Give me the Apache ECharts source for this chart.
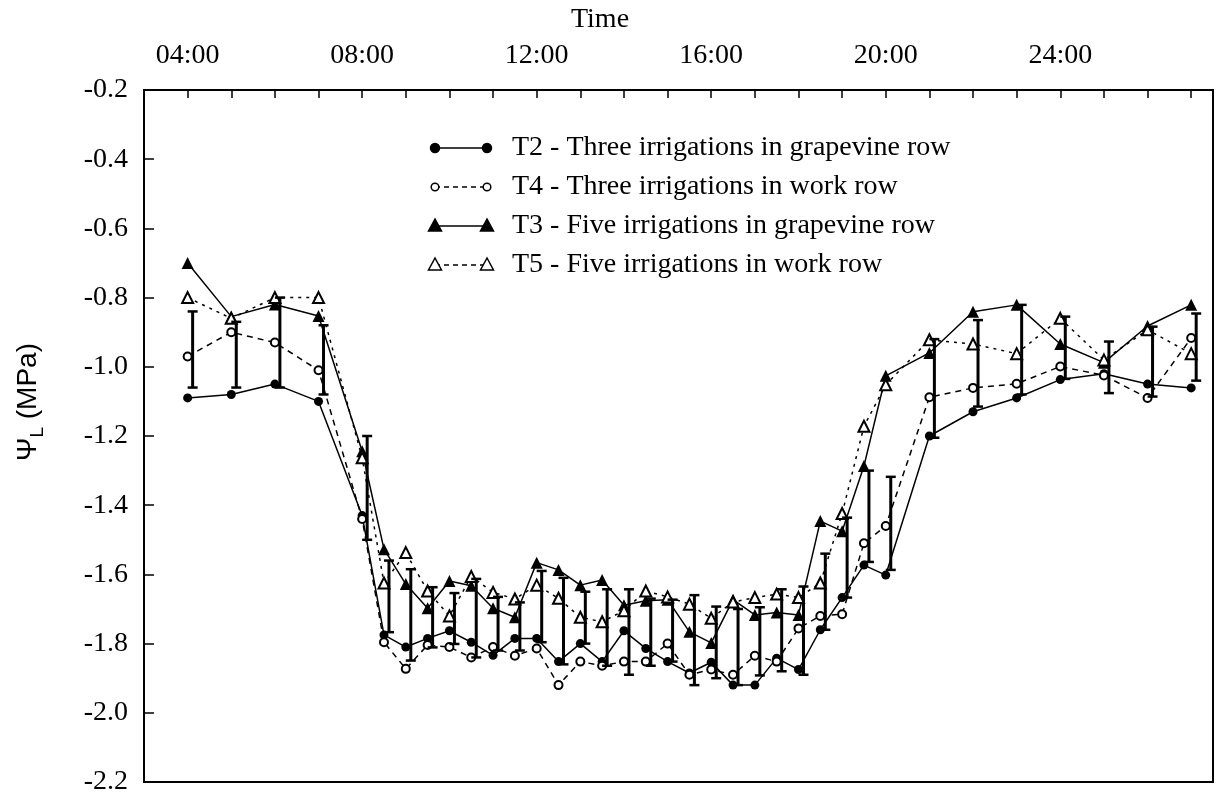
<!DOCTYPE html>
<html><head><meta charset="utf-8">
<script src="https://cdn.jsdelivr.net/npm/echarts@6/dist/echarts.min.js"></script>
<style>html,body{margin:0;padding:0;background:#fff}#c{width:1231px;height:796px}</style>
</head><body><div id="c"></div>
<script>
// Time of day in hours (25-27 = 01:00-03:00 next day)
const times = [4,5,6,7,8,8.5,9,9.5,10,10.5,11,11.5,12,12.5,13,13.5,14,14.5,15,15.5,16,16.5,17,17.5,18,18.5,19,19.5,20,21,22,23,24,25,26,27];
const T2 = [-1.09,-1.08,-1.05,-1.10,-1.43,-1.775,-1.81,-1.785,-1.763,-1.796,-1.834,-1.785,-1.785,-1.852,-1.80,-1.852,-1.763,-1.814,-1.852,-1.885,-1.854,-1.92,-1.92,-1.842,-1.875,-1.76,-1.667,-1.573,-1.602,-1.20,-1.13,-1.09,-1.037,-1.02,-1.05,-1.061];
const T4 = [-0.97,-0.90,-0.93,-1.01,-1.44,-1.796,-1.873,-1.804,-1.81,-1.84,-1.81,-1.835,-1.814,-1.92,-1.852,-1.864,-1.852,-1.852,-1.80,-1.89,-1.875,-1.89,-1.835,-1.852,-1.756,-1.72,-1.715,-1.51,-1.46,-1.088,-1.061,-1.049,-0.999,-1.025,-1.09,-0.917];
const T3 = [-0.70,-0.855,-0.82,-0.853,-1.244,-1.527,-1.628,-1.698,-1.619,-1.633,-1.698,-1.724,-1.566,-1.587,-1.631,-1.616,-1.689,-1.676,-1.673,-1.766,-1.798,-1.673,-1.717,-1.71,-1.717,-1.446,-1.475,-1.287,-1.026,-0.96,-0.841,-0.821,-0.934,-0.988,-0.882,-0.821];
const T5 = [-0.80,-0.86,-0.80,-0.80,-1.263,-1.625,-1.537,-1.648,-1.72,-1.606,-1.652,-1.671,-1.631,-1.669,-1.724,-1.737,-1.705,-1.648,-1.665,-1.686,-1.727,-1.68,-1.667,-1.657,-1.667,-1.625,-1.424,-1.172,-1.052,-0.922,-0.934,-0.962,-0.86,-0.98,-0.893,-0.962];
// error bar extent (top and bottom values)
const barHigh = [-0.84,-0.87,-0.80,-0.88,-1.20,-1.56,-1.585,-1.637,-1.654,-1.613,-1.665,-1.681,-1.59,-1.61,-1.65,-1.643,-1.643,-1.67,-1.673,-1.66,-1.693,-1.70,-1.695,-1.643,-1.635,-1.54,-1.436,-1.30,-1.318,-0.92,-0.865,-0.821,-0.855,-0.927,-0.884,-0.846];
const barLow = [-1.06,-1.06,-1.06,-1.08,-1.50,-1.767,-1.849,-1.811,-1.801,-1.84,-1.82,-1.82,-1.796,-1.86,-1.80,-1.864,-1.89,-1.864,-1.852,-1.92,-1.90,-1.92,-1.892,-1.88,-1.89,-1.76,-1.667,-1.564,-1.587,-1.205,-1.115,-1.08,-1.035,-1.076,-1.086,-1.04];
const xLabelHours = [4,8,12,16,20,24];
const xTickHours = [4,5,6,7,8,9,10,11,12,13,14,15,16,17,18,19,20,21,22,23,24,25,26,27];
const legendNames = ['T2 - Three irrigations in grapevine row','T4 - Three irrigations in work row','T3 - Five irrigations in grapevine row','T5 - Five irrigations in work row'];

const SERIF = "'Liberation Serif','Times New Roman',serif";
const SANS = "'Liberation Sans',Arial,sans-serif";
const FS = 28;
const fmt = h => String(h).padStart(2,'0') + ':00';
const pairs = arr => times.map((t,i)=>[t,arr[i]]);

const chart = echarts.init(document.getElementById('c'), null, {renderer:'canvas'});

// legend and titles drawn as graphic decorations
const legendGraphics = [];
const styles = [
  {sym:'circle', filled:true, dash:null},
  {sym:'circle', filled:false, dash:[5,4]},
  {sym:'tri', filled:true, dash:null},
  {sym:'tri', filled:false, dash:[5,4]}
];
const LX1 = 435, LX2 = 487, LT = 512, LY0 = 148, LDY = 39;
styles.forEach((s,i)=>{
  const y = LY0 + LDY*i;
  legendGraphics.push({type:'line', shape:{x1:LX1,y1:y,x2:LX2,y2:y}, style:{stroke:'#000', lineWidth:1.5, lineDash:s.dash||null}});
  [LX1,LX2].forEach(x=>{
    if (s.sym==='circle') {
      legendGraphics.push({type:'circle', shape:{cx:x,cy:y,r:s.filled?4.5:3.8}, style:{fill:s.filled?'#000':'#fff', stroke:'#000', lineWidth:1.5}});
    } else {
      legendGraphics.push({type:'polygon', shape:{points:[[x,y-7],[x-6.5,y+5],[x+6.5,y+5]]}, style:{fill:s.filled?'#000':'#fff', stroke:'#000', lineWidth:1.5}});
    }
  });
  legendGraphics.push({type:'text', x:LT, y:y, style:{text:legendNames[i], fontFamily:SERIF, fontSize:FS, fill:'#000', align:'left', verticalAlign:'middle'}});
});
legendGraphics.push({type:'text', x:28, y:402, rotation:Math.PI/2,
  style:{text:'{a|Ψ}{b|L}{a| (MPa)}', align:'center', verticalAlign:'middle', fill:'#000',
    rich:{a:{fontFamily:SANS, fontSize:FS, lineHeight:38, fill:'#000'}, b:{fontFamily:SANS, fontSize:19, lineHeight:38, verticalAlign:'bottom', fill:'#000'}}}});
legendGraphics.push({type:'text', x:600, y:20, style:{text:'Time', fontFamily:SERIF, fontSize:FS, fill:'#000', align:'center', verticalAlign:'middle'}});

const BAR_OFFSET = 5;
const option = {
  animation:false,
  backgroundColor:'#fff',
  grid:{left:144, right:18, top:90, bottom:12, show:true, borderColor:'#000', borderWidth:2, backgroundColor:'transparent'},
  xAxis:{type:'value', position:'top', min:3, max:27.5, interval:1,
    axisLine:{show:true, lineStyle:{color:'#000', width:2}},
    axisTick:{show:true, inside:true, length:8, customValues:xTickHours, lineStyle:{color:'#000', width:1.5}},
    axisLabel:{customValues:xLabelHours, formatter:v=> xLabelHours.includes(Math.round(v*100)/100) ? fmt(v) : '', fontFamily:SERIF, fontSize:FS, color:'#000', margin:20},
    splitLine:{show:false}},
  yAxis:{type:'value', min:-2.2, max:-0.2, interval:0.2,
    axisLine:{show:true, lineStyle:{color:'#000', width:2}},
    axisTick:{show:true, inside:true, length:10, lineStyle:{color:'#000', width:1.5}},
    axisLabel:{formatter:v=>v.toFixed(1), fontFamily:SERIF, fontSize:FS, color:'#000', margin:16},
    splitLine:{show:false}},
  graphic:legendGraphics,
  series:[
    {type:'custom', z:4, data:times.map((t,i)=>[t,barHigh[i],barLow[i]]), encode:{x:0,y:[1,2]},
      renderItem:(params, api)=>{
        const t=api.value(0), hi=api.value(1), lo=api.value(2);
        const p1=api.coord([t,hi]), p2=api.coord([t,lo]);
        const x=p1[0]+BAR_OFFSET, w=5;
        return {type:'group', children:[
          {type:'line', shape:{x1:x,y1:p1[1],x2:x,y2:p2[1]}, style:{stroke:'#000', lineWidth:3}},
          {type:'line', shape:{x1:x-w,y1:p1[1],x2:x+w,y2:p1[1]}, style:{stroke:'#000', lineWidth:2.5}},
          {type:'line', shape:{x1:x-w,y1:p2[1],x2:x+w,y2:p2[1]}, style:{stroke:'#000', lineWidth:2.5}}
        ]};
      }},
    {name:legendNames[0], type:'line', z:3, data:pairs(T2), symbol:'circle', symbolSize:9,
      lineStyle:{color:'#000', width:1.5}, itemStyle:{color:'#000'}},
    {name:legendNames[1], type:'line', z:3, data:pairs(T4), symbol:'emptyCircle', symbolSize:8,
      lineStyle:{color:'#000', width:1.5, type:[6,5]}, itemStyle:{color:'#000', borderWidth:1.5}},
    {name:legendNames[2], type:'line', z:3, data:pairs(T3), symbol:'triangle', symbolSize:12,
      lineStyle:{color:'#000', width:1.5}, itemStyle:{color:'#000'}},
    {name:legendNames[3], type:'line', z:3, data:pairs(T5), symbol:'emptyTriangle', symbolSize:11,
      lineStyle:{color:'#000', width:1.5, type:[3,5]}, itemStyle:{color:'#000', borderWidth:1.5}}
  ]
};
chart.setOption(option);
</script></body></html>
